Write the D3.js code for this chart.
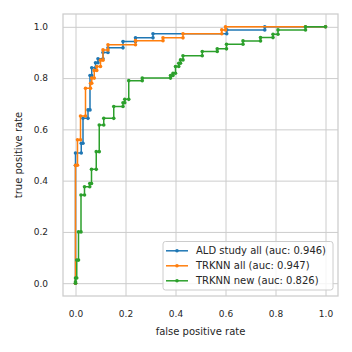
<!DOCTYPE html>
<html>
<head>
<meta charset="utf-8">
<script src="https://cdn.jsdelivr.net/npm/d3@7"></script>
<style>
  body { margin: 0; background: #fff; }
  text { font-family: "DejaVu Sans", sans-serif; fill: #262626; }
</style>
</head>
<body>
<div id="chart"></div>
<script>
// ROC points
var aldFpr = [0, 0, 0, 0.023, 0.023, 0.03, 0.03, 0.05, 0.05, 0.058, 0.058, 0.065, 0.065, 0.08, 0.08, 0.09, 0.09, 0.11, 0.11, 0.13, 0.13, 0.19, 0.19, 0.24, 0.24, 0.31, 0.31, 0.605, 0.605, 0.757, 0.757, 1];
var aldTpr = [0, 0.46, 0.508, 0.508, 0.546, 0.546, 0.643, 0.643, 0.676, 0.676, 0.81, 0.81, 0.84, 0.84, 0.86, 0.86, 0.875, 0.875, 0.9, 0.9, 0.918, 0.918, 0.943, 0.943, 0.957, 0.957, 0.973, 0.973, 0.988, 0.988, 1, 1];

var allFpr = [0, 0, 0.008, 0.008, 0.02, 0.02, 0.04, 0.04, 0.06, 0.06, 0.065, 0.065, 0.075, 0.075, 0.085, 0.085, 0.1, 0.1, 0.11, 0.11, 0.13, 0.13, 0.24, 0.24, 0.35, 0.35, 0.43, 0.43, 0.585, 0.585, 0.6, 0.6, 0.92, 1];
var allTpr = [0, 0.46, 0.46, 0.559, 0.559, 0.652, 0.652, 0.76, 0.76, 0.78, 0.78, 0.8, 0.8, 0.83, 0.83, 0.845, 0.845, 0.87, 0.87, 0.91, 0.91, 0.93, 0.93, 0.946, 0.946, 0.957, 0.957, 0.973, 0.973, 0.988, 0.988, 1, 1, 1];

var newFpr = [0, 0, 0, 0.005, 0.005, 0.012, 0.012, 0.022, 0.022, 0.036, 0.036, 0.057, 0.057, 0.064, 0.064, 0.083, 0.083, 0.095, 0.095, 0.113, 0.113, 0.153, 0.153, 0.19, 0.19, 0.197, 0.197, 0.213, 0.213, 0.267, 0.267, 0.38, 0.38, 0.39, 0.39, 0.4, 0.4, 0.413, 0.413, 0.42, 0.42, 0.43, 0.43, 0.507, 0.507, 0.567, 0.567, 0.604, 0.604, 0.67, 0.67, 0.74, 0.74, 0.79, 0.79, 0.81, 0.81, 0.92, 0.92, 1];
var newTpr = [0, 0.005, 0.02, 0.02, 0.09, 0.09, 0.2, 0.2, 0.344, 0.344, 0.376, 0.376, 0.389, 0.389, 0.444, 0.444, 0.513, 0.513, 0.617, 0.617, 0.643, 0.643, 0.689, 0.689, 0.704, 0.704, 0.717, 0.717, 0.79, 0.79, 0.8, 0.8, 0.81, 0.81, 0.819, 0.819, 0.845, 0.845, 0.858, 0.858, 0.871, 0.871, 0.887, 0.887, 0.904, 0.904, 0.914, 0.914, 0.932, 0.932, 0.945, 0.945, 0.958, 0.958, 0.971, 0.971, 0.988, 0.988, 1, 1];

var seriesNames = ["ALD study all (auc: 0.946)", "TRKNN all (auc: 0.947)", "TRKNN new (auc: 0.826)"];
var seriesColors = ["#1f77b4", "#ff7f0e", "#2ca02c"];
var xTicks = [0, 0.2, 0.4, 0.6, 0.8, 1.0];
var yTicks = [0, 0.2, 0.4, 0.6, 0.8, 1.0];

var w = 352, h = 352;
var plotL = 63, plotR = 338, plotT = 14, plotB = 296;

var svg = d3.select("#chart").append("svg")
  .attr("width", w)
  .attr("height", h);

var xScale = d3.scaleLinear().domain([-0.05, 1.05]).range([plotL, plotR]);
var yScale = d3.scaleLinear().domain([-0.05, 1.05]).range([plotB, plotT]);

// grid + tick labels
var xAxis = d3.axisBottom(xScale).tickValues(xTicks).tickFormat(d3.format(".1f"))
  .tickSize(-(plotB - plotT)).tickPadding(15);
var yAxis = d3.axisLeft(yScale).tickValues(yTicks).tickFormat(d3.format(".1f"))
  .tickSize(-(plotR - plotL)).tickPadding(15);

var gx = svg.append("g").attr("transform", "translate(0," + plotB + ")").call(xAxis);
var gy = svg.append("g").attr("transform", "translate(" + plotL + ",0)").call(yAxis);
[gx, gy].forEach(function(g) {
  g.select(".domain").remove();
  g.selectAll(".tick line").attr("stroke", "#cccccc").attr("stroke-width", 1);
  g.selectAll(".tick text").attr("font-size", "9px").attr("fill", "#262626")
    .style("font-family", "DejaVu Sans");
});

// frame
svg.append("rect")
  .attr("x", plotL).attr("y", plotT)
  .attr("width", plotR - plotL).attr("height", plotB - plotT)
  .attr("fill", "none").attr("stroke", "#cccccc").attr("stroke-width", 1.25);

var series = [
  { fpr: aldFpr, tpr: aldTpr },
  { fpr: allFpr, tpr: allTpr },
  { fpr: newFpr, tpr: newTpr }
];

var line = d3.line()
  .x(function(d) { return xScale(d[0]); })
  .y(function(d) { return yScale(d[1]); });

series.forEach(function(s, i) {
  var pts = s.fpr.map(function(f, j) { return [f, s.tpr[j]]; });
  var g = svg.append("g");
  g.append("path")
    .datum(pts)
    .attr("d", line)
    .attr("fill", "none")
    .attr("stroke", seriesColors[i])
    .attr("stroke-width", 1.5);
  g.selectAll("circle")
    .data(pts)
    .enter()
    .append("circle")
    .attr("cx", function(d) { return xScale(d[0]); })
    .attr("cy", function(d) { return yScale(d[1]); })
    .attr("r", 1.8)
    .attr("fill", seriesColors[i]);
});

// legend
var legend = svg.append("g");
legend.append("rect")
  .attr("x", 163).attr("y", 241.5)
  .attr("width", 170).attr("height", 48.5)
  .attr("rx", 2.5)
  .attr("fill", "#ffffff").attr("fill-opacity", 0.8)
  .attr("stroke", "#cccccc").attr("stroke-width", 1);

seriesNames.forEach(function(name, i) {
  var cy = 250.8 + i * 15;
  legend.append("line")
    .attr("x1", 166).attr("x2", 188)
    .attr("y1", cy).attr("y2", cy)
    .attr("stroke", seriesColors[i]).attr("stroke-width", 1.5);
  legend.append("circle")
    .attr("cx", 177).attr("cy", cy).attr("r", 1.8)
    .attr("fill", seriesColors[i]);
  legend.append("text")
    .attr("x", 196).attr("y", cy + 3.6)
    .attr("font-size", "10px")
    .text(name);
});

// axis labels
svg.append("text")
  .attr("text-anchor", "middle")
  .attr("x", (plotL + plotR) / 2)
  .attr("y", 335)
  .attr("font-size", "10px")
  .text("false positive rate");

svg.append("text")
  .attr("text-anchor", "middle")
  .attr("transform", "translate(22," + (plotT + plotB) / 2 + ") rotate(-90)")
  .attr("font-size", "10px")
  .text("true positive rate");
</script>
</body>
</html>
